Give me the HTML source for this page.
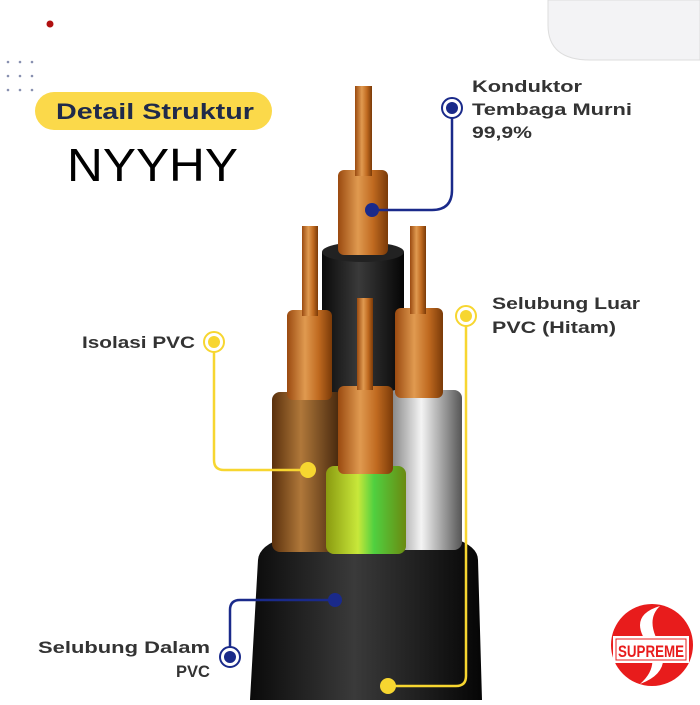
<!DOCTYPE html>
<html><head><style>
body{margin:0;width:700px;height:700px;overflow:hidden;background:#fff;font-family:"Liberation Sans",sans-serif}
</style></head><body>
<svg width="700" height="700" viewBox="0 0 700 700" xmlns="http://www.w3.org/2000/svg">
<defs>
<linearGradient id="cu" x1="0" x2="1"><stop offset="0" stop-color="#9a4a10"/><stop offset=".4" stop-color="#e09a50"/><stop offset=".7" stop-color="#c06a20"/><stop offset="1" stop-color="#7a3a08"/></linearGradient>
<linearGradient id="br" x1="0" x2="1"><stop offset="0" stop-color="#5a300c"/><stop offset=".4" stop-color="#b0783a"/><stop offset="1" stop-color="#3a1e08"/></linearGradient>
<linearGradient id="gr" x1="0" x2="1"><stop offset="0" stop-color="#777"/><stop offset=".45" stop-color="#f4f4f4"/><stop offset="1" stop-color="#555"/></linearGradient>
<linearGradient id="gy" x1="0" x2="1"><stop offset="0" stop-color="#8a9a10"/><stop offset=".4" stop-color="#c8e83a"/><stop offset=".6" stop-color="#50d040"/><stop offset="1" stop-color="#6a8a10"/></linearGradient>
<linearGradient id="bk" x1="0" x2="1"><stop offset="0" stop-color="#0a0a0a"/><stop offset=".45" stop-color="#3a3a3a"/><stop offset="1" stop-color="#050505"/></linearGradient>
</defs>
<path d="M560 0 L700 0 L700 60 L590 60 Q548 60 548 25 L548 0Z" fill="#f3f3f5" stroke="#ddd"/>
<circle cx="50" cy="24" r="3.5" fill="#b01010"/>
<g fill="#8890b0"><circle cx="8" cy="62" r="1.3"/><circle cx="20" cy="62" r="1.3"/><circle cx="32" cy="62" r="1.3"/><circle cx="8" cy="76" r="1.3"/><circle cx="20" cy="76" r="1.3"/><circle cx="32" cy="76" r="1.3"/><circle cx="8" cy="90" r="1.3"/><circle cx="20" cy="90" r="1.3"/><circle cx="32" cy="90" r="1.3"/></g>
<rect x="35" y="92" width="237" height="38" rx="19" fill="#fbd94a"/>
<text x="56" y="119" font-size="22" font-weight="bold" fill="#1f2a4a" textLength="198" lengthAdjust="spacingAndGlyphs">Detail Struktur</text>
<text x="67" y="181" font-size="46" fill="#000" textLength="171" lengthAdjust="spacingAndGlyphs">NYYHY</text>
<path d="M250 700 L258 560 Q260 530 365 528 Q478 530 478 560 L482 700Z" fill="url(#bk)"/>
<rect x="322" y="252" width="82" height="300" fill="url(#bk)"/>
<ellipse cx="363" cy="252" rx="41" ry="10" fill="#222"/>
<rect x="338" y="170" width="50" height="85" rx="6" fill="url(#cu)"/>
<rect x="355" y="86" width="17" height="90" fill="url(#cu)"/>
<rect x="272" y="392" width="72" height="160" rx="8" fill="url(#br)"/>
<rect x="287" y="310" width="45" height="90" rx="6" fill="url(#cu)"/>
<rect x="302" y="226" width="16" height="90" fill="url(#cu)"/>
<rect x="388" y="390" width="74" height="160" rx="8" fill="url(#gr)"/>
<rect x="395" y="308" width="48" height="90" rx="6" fill="url(#cu)"/>
<rect x="410" y="226" width="16" height="88" fill="url(#cu)"/>
<rect x="326" y="466" width="80" height="88" rx="8" fill="url(#gy)"/>
<rect x="338" y="386" width="55" height="88" rx="6" fill="url(#cu)"/>
<rect x="357" y="298" width="16" height="92" fill="url(#cu)"/>
<g fill="none" stroke-width="2.5">
<path d="M452 108 L452 190 Q452 210 432 210 L372 210" stroke="#1a2a8a"/>
<path d="M466 316 L466 676 Q466 686 456 686 L388 686" stroke="#f7d630"/>
<path d="M214 342 L214 460 Q214 470 224 470 L308 470" stroke="#f7d630"/>
<path d="M230 657 L230 610 Q230 600 240 600 L335 600" stroke="#1a2a8a"/>
</g>
<g>
<circle cx="452" cy="108" r="10" fill="#fff" stroke="#1a2a8a" stroke-width="2"/><circle cx="452" cy="108" r="6" fill="#1a2a8a"/>
<circle cx="372" cy="210" r="7" fill="#1a2a8a"/>
<circle cx="466" cy="316" r="10" fill="#fff" stroke="#f7d630" stroke-width="2"/><circle cx="466" cy="316" r="6" fill="#f7d630"/>
<circle cx="388" cy="686" r="8" fill="#f7d630"/>
<circle cx="214" cy="342" r="10" fill="#fff" stroke="#f7d630" stroke-width="2"/><circle cx="214" cy="342" r="6" fill="#f7d630"/>
<circle cx="308" cy="470" r="8" fill="#f7d630"/>
<circle cx="230" cy="657" r="10" fill="#fff" stroke="#1a2a8a" stroke-width="2"/><circle cx="230" cy="657" r="6" fill="#1a2a8a"/>
<circle cx="335" cy="600" r="7" fill="#1a2a8a"/>
</g>
<g font-size="17" font-weight="bold" fill="#333" lengthAdjust="spacingAndGlyphs">
<text x="472" y="92" textLength="110" lengthAdjust="spacingAndGlyphs">Konduktor</text><text x="472" y="115" textLength="160" lengthAdjust="spacingAndGlyphs">Tembaga Murni</text><text x="472" y="138" textLength="60" lengthAdjust="spacingAndGlyphs">99,9%</text>
<text x="492" y="309" textLength="148" lengthAdjust="spacingAndGlyphs">Selubung Luar</text><text x="492" y="333" textLength="124" lengthAdjust="spacingAndGlyphs">PVC (Hitam)</text>
<text x="82" y="348" textLength="113" lengthAdjust="spacingAndGlyphs">Isolasi PVC</text>
<text x="38" y="653" textLength="172" lengthAdjust="spacingAndGlyphs">Selubung Dalam</text><text x="176" y="677" textLength="34" lengthAdjust="spacingAndGlyphs">PVC</text>
</g>
<circle cx="652" cy="645" r="41" fill="#e81c1c"/>
<path d="M660 606 Q630 615 645 640 Q662 665 640 684 Q672 672 660 645 Q645 620 660 606Z" fill="#fff"/>
<rect x="613" y="636" width="76" height="27" fill="#fff"/>
<rect x="616" y="639" width="70" height="21" fill="#fff" stroke="#e81c1c" stroke-width="1"/>
<text x="651" y="657" font-size="17" font-weight="bold" fill="#e81c1c" text-anchor="middle" textLength="66" lengthAdjust="spacingAndGlyphs">SUPREME</text>
</svg>
</body></html>
